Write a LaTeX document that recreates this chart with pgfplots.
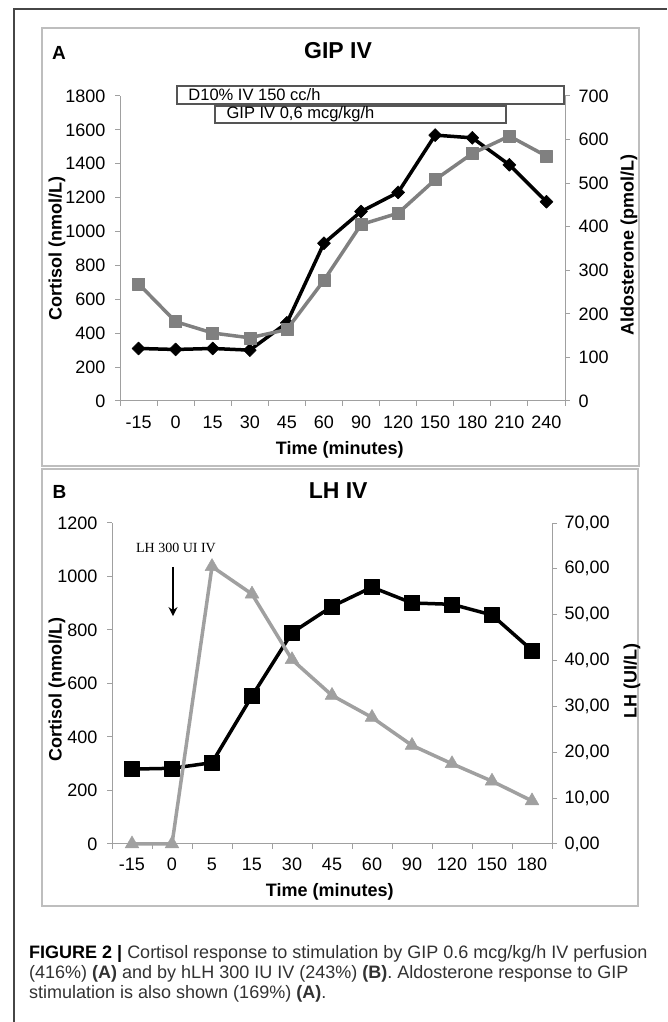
\documentclass[border=0pt]{standalone}
\usepackage{fontspec}
\setmainfont{Liberation Sans}
\newfontfamily\serifA{Liberation Serif}
\usepackage{pgfplots}
\pgfplotsset{compat=1.18}
\usetikzlibrary{arrows.meta}

\definecolor{axgray}{RGB}{160,160,160}
\definecolor{aldo}{RGB}{128,128,128}
\definecolor{lhgray}{RGB}{160,160,160}
\definecolor{boxgray}{RGB}{85,85,85}
\definecolor{panelgray}{RGB}{190,190,190}
\definecolor{framegray}{RGB}{70,70,70}
\definecolor{captext}{RGB}{50,50,50}

\pgfplotsset{
  panel/.style={
    scale only axis, clip=false,
    axis line style={axgray, line width=1pt},
    tick style={axgray, line width=1pt},
    tick align=outside,
    major tick length=5pt, minor tick length=5pt,
    tick label style={font=\fontsize{18}{20}\selectfont},
    /pgf/number format/assume math mode=true,
    /pgf/number format/1000 sep={},
    label style={font=\bfseries\fontsize{18}{20}\selectfont},
  },
}

\begin{document}
\begin{tikzpicture}[x=1pt,y=1pt]
\useasboundingbox (0,0) rectangle (667,1022);

% outer frame and panel boxes
\draw[framegray, line width=1.5pt] (14,0) -- (14,1013) -- (667,1013);
\draw[panelgray, line width=1.5pt] (42,556) rectangle (639,994);
\draw[panelgray, line width=1.5pt] (42,116) rectangle (638,553);
\node[font=\bfseries\fontsize{19}{20}\selectfont] at (59,969) {A};
\node[font=\bfseries\fontsize{19}{20}\selectfont] at (59.5,530) {B};

% ---------- panel A: cortisol ----------
\begin{axis}[panel,
    at={(120pt,621pt)}, anchor=south west, width=445pt, height=305pt,
    xmin=-0.5, xmax=11.5, ymin=0, ymax=1800,
    axis x line*=bottom, axis y line*=left,
    xtick={0,...,11},
    xticklabels={-15,0,15,30,45,60,90,120,150,180,210,240},
    minor xtick={-0.5,0.5,...,11.5},
    major x tick style={draw=none},
    ytick={0,200,...,1800},
    xticklabel style={yshift=-6.5pt},
    yticklabel style={xshift=-6pt},
    xlabel={Time (minutes)},
    xlabel style={at={(axis description cs:0.494,-0.161)}, anchor=center},
    ylabel={Cortisol (nmol/L)},
    ylabel style={at={(axis description cs:-0.1416,0.5)}, anchor=center},
    title={GIP IV},
    title style={at={(axis description cs:0.49,1.128)}, anchor=center,
                 font=\bfseries\fontsize{23}{26}\selectfont},
]
\draw[boxgray, line width=2pt, fill=white] (axis cs:1.03,1753) rectangle (axis cs:11.46,1859);
\node[anchor=west, font=\fontsize{16.5}{17}\selectfont] at (axis cs:1.25,1806) {D10\% IV 150 cc/h};
\draw[boxgray, line width=2pt, fill=white] (axis cs:2.06,1641) rectangle (axis cs:9.91,1741);
\node[anchor=west, font=\fontsize{16.5}{17}\selectfont] at (axis cs:2.28,1691) {GIP IV 0,6 mcg/kg/h};

\addplot[black, line width=3.5pt, line join=round, mark=square*,
         mark size=4.6pt, mark options={rotate=45, line width=0.5pt}] coordinates {
  (0,310) (1,304) (2,310) (3,300) (4,461) (5,931)
  (6,1118) (7,1231) (8,1569) (9,1553) (10,1394) (11,1176)
};
\end{axis}

% ---------- panel A: aldosterone ----------
\begin{axis}[panel,
    at={(120pt,621pt)}, anchor=south west, width=445pt, height=305pt,
    xmin=-0.5, xmax=11.5, ymin=0, ymax=700,
    axis x line=none, axis y line*=right,
    ytick={0,100,...,700},
    yticklabel style={xshift=5pt},
    ylabel={Aldosterone (pmol/L)},
    ylabel style={at={(axis description cs:1.144,0.511)}, anchor=center},
]
\addplot[aldo, line width=3.5pt, line join=round, mark=square*,
         mark size=6pt, mark options={line width=0.5pt}] coordinates {
  (0,269) (1,182) (2,156) (3,145) (4,164) (5,277)
  (6,405) (7,431) (8,508) (9,568) (10,608) (11,562)
};
\end{axis}

% ---------- panel B: cortisol ----------
\begin{axis}[panel,
    at={(112pt,178pt)}, anchor=south west, width=440pt, height=321pt,
    xmin=-0.5, xmax=10.5, ymin=0, ymax=1200,
    axis x line*=bottom, axis y line*=left,
    xtick={0,...,10},
    xticklabels={-15,0,5,15,30,45,60,90,120,150,180},
    minor xtick={-0.5,0.5,...,10.5},
    major x tick style={draw=none},
    ytick={0,200,...,1200},
    xticklabel style={yshift=-5.5pt},
    yticklabel style={xshift=-6pt},
    xlabel={Time (minutes)},
    xlabel style={at={(axis description cs:0.495,-0.15)}, anchor=center},
    ylabel={Cortisol (nmol/L)},
    ylabel style={at={(axis description cs:-0.125,0.48)}, anchor=center},
    title={LH IV},
    title style={at={(axis description cs:0.514,1.081)}, anchor=center,
                 font=\bfseries\fontsize{23}{26}\selectfont},
]
\node[font=\serifA\fontsize{14}{16}\selectfont] at (axis cs:1.1,1107) {LH 300 UI IV};
\draw[black, line width=2pt, -{Stealth[length=9pt,width=9pt]}] (axis cs:1.025,1036) -- (axis cs:1.025,852);

\addplot[black, line width=3.5pt, line join=round, mark=square*,
         mark size=7.5pt, mark options={line width=0.5pt}] coordinates {
  (0,280) (1,283) (2,304) (3,553) (4,790) (5,888)
  (6,960) (7,901) (8,896) (9,856) (10,724)
};
\end{axis}

% ---------- panel B: LH ----------
\begin{axis}[panel,
    at={(112pt,178pt)}, anchor=south west, width=440pt, height=321pt,
    xmin=-0.5, xmax=10.5, ymin=0, ymax=70,
    axis x line=none, axis y line*=right,
    ytick={0,10,...,70},
    yticklabels={{0,00},{10,00},{20,00},{30,00},{40,00},{50,00},{60,00},{70,00}},
    yticklabel style={xshift=4pt},
    ylabel={LH (UI/L)},
    ylabel style={at={(axis description cs:1.182,0.508)}, anchor=center},
]
\addplot[lhgray, line width=3.5pt, line join=round, mark=triangle*,
         mark size=8pt, mark options={line width=0.5pt}] coordinates {
  (0,0) (1,0) (2,60.5) (3,54.5) (4,40.2) (5,32.4)
  (6,27.6) (7,21.5) (8,17.5) (9,13.7) (10,9.4)
};
\end{axis}

% ---------- caption ----------
\begin{scope}[every node/.style={anchor=base west, inner sep=0pt, text=captext,
                                 font=\fontsize{18}{20}\selectfont}]
\node at (29,63) {\textbf{\color{black}FIGURE 2 |} Cortisol response to stimulation by GIP 0.6 mcg/kg/h IV perfusion};
\node at (29,43) {(416\%) \textbf{(A)} and by hLH 300 IU IV (243\%) \textbf{(B)}. Aldosterone response to GIP};
\node at (29,23.5) {stimulation is also shown (169\%) \textbf{(A)}.};
\end{scope}
\end{tikzpicture}
\end{document}
